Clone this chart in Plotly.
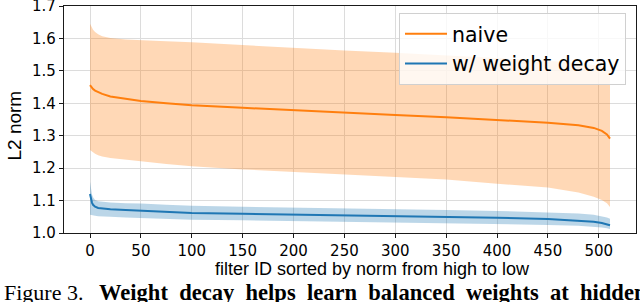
import plotly.graph_objects as go

# ---- data ----
filter_id = [0, 1, 2, 3, 5, 8, 12, 20, 35, 50, 75, 100, 150, 200, 250, 300,
             350, 400, 450, 480, 495, 503, 508, 511]

naive_mean = [1.456, 1.451, 1.447, 1.444, 1.439, 1.434, 1.429, 1.421, 1.413,
              1.407, 1.400, 1.394, 1.386, 1.378, 1.371, 1.364, 1.357, 1.349,
              1.340, 1.332, 1.324, 1.315, 1.304, 1.291]
naive_upper = [1.645, 1.638, 1.632, 1.627, 1.620, 1.613, 1.607, 1.601, 1.597,
               1.594, 1.591, 1.588, 1.579, 1.570, 1.563, 1.556, 1.548, 1.540,
               1.531, 1.524, 1.518, 1.512, 1.505, 1.498]
naive_lower = [1.256, 1.253, 1.250, 1.248, 1.244, 1.240, 1.236, 1.231, 1.225,
               1.221, 1.213, 1.206, 1.196, 1.188, 1.180, 1.173, 1.165, 1.152,
               1.140, 1.125, 1.112, 1.102, 1.092, 1.080]

wd_mean = [1.120, 1.103, 1.093, 1.087, 1.081, 1.077, 1.075, 1.073, 1.071,
           1.069, 1.065, 1.062, 1.059, 1.057, 1.055, 1.052, 1.050, 1.047,
           1.043, 1.039, 1.035, 1.031, 1.027, 1.024]
wd_upper = [1.158, 1.132, 1.118, 1.110, 1.102, 1.098, 1.096, 1.094, 1.092,
            1.091, 1.087, 1.084, 1.081, 1.079, 1.077, 1.074, 1.071, 1.068,
            1.064, 1.060, 1.056, 1.052, 1.048, 1.044]
wd_lower = [1.056, 1.055, 1.054, 1.054, 1.053, 1.052, 1.051, 1.050, 1.048,
            1.046, 1.043, 1.041, 1.039, 1.037, 1.035, 1.033, 1.031, 1.029,
            1.025, 1.022, 1.020, 1.017, 1.015, 1.012]

series_names = ["naive", "w/ weight decay"]
x_ticks = [0, 50, 100, 150, 200, 250, 300, 350, 400, 450, 500]
y_ticks = [1.0, 1.1, 1.2, 1.3, 1.4, 1.5, 1.6, 1.7]
x_title = "filter ID sorted by norm from high to low"
y_title = "L2 norm"
caption_plain = "Figure 3."
caption_bold = "Weight decay helps learn balanced weights at hidden"

ORANGE = "#ff7f0e"
BLUE = "#1f77b4"

W, H = 640, 302
ML, MR, MT, MB = 64, 4, 6, 69
PW, PH = W - ML - MR, H - MT - MB


def px_x(p):
    return (p - ML) / PW


def px_y(p):
    return (H - MB - p) / PH


fig = go.Figure()

# naive band + line
fig.add_trace(go.Scatter(x=filter_id, y=naive_upper, mode="lines",
                         line=dict(width=0, color=ORANGE), showlegend=False,
                         hoverinfo="skip"))
fig.add_trace(go.Scatter(x=filter_id, y=naive_lower, mode="lines",
                         line=dict(width=0, color=ORANGE), fill="tonexty",
                         fillcolor="rgba(255,127,14,0.3)", showlegend=False,
                         hoverinfo="skip"))
fig.add_trace(go.Scatter(x=filter_id, y=naive_mean, mode="lines",
                         line=dict(width=2, color=ORANGE), name=series_names[0]))

# weight decay band + line
fig.add_trace(go.Scatter(x=filter_id, y=wd_upper, mode="lines",
                         line=dict(width=0, color=BLUE), showlegend=False,
                         hoverinfo="skip"))
fig.add_trace(go.Scatter(x=filter_id, y=wd_lower, mode="lines",
                         line=dict(width=0, color=BLUE), fill="tonexty",
                         fillcolor="rgba(31,119,180,0.3)", showlegend=False,
                         hoverinfo="skip"))
fig.add_trace(go.Scatter(x=filter_id, y=wd_mean, mode="lines",
                         line=dict(width=2, color=BLUE), name=series_names[1]))

axis_common = dict(
    showline=True, mirror=True, linecolor="#1a1a1a", linewidth=1.2,
    ticks="outside", ticklen=4, tickwidth=1, tickcolor="#1a1a1a",
    showgrid=True, gridcolor="#dcdcdc", gridwidth=1.4, zeroline=False,
    automargin=False, ticklabeloverflow="allow",
    tickfont=dict(family="DejaVu Sans", size=15, color="black"),
)

fig.update_xaxes(range=[-25.55, 536.55], tickvals=x_ticks, **axis_common)
fig.update_yaxes(range=[1.0, 1.7], tickvals=y_ticks, tickformat=".1f",
                 **axis_common)

annotations = [
    dict(text=x_title, xref="paper", yref="paper", x=px_x(372), y=px_y(268.5),
         xanchor="center", yanchor="middle", showarrow=False,
         font=dict(family="Liberation Sans", size=18, color="black")),
    dict(text=y_title, xref="paper", yref="paper", x=px_x(14), y=px_y(125.5),
         xanchor="center", yanchor="middle", showarrow=False, textangle=-90,
         font=dict(family="Liberation Sans", size=19, color="black")),
    dict(text=caption_plain, xref="paper", yref="paper", x=px_x(2),
         y=px_y(292), xanchor="left", yanchor="middle", showarrow=False,
         font=dict(family="Liberation Serif", size=22, color="black")),
    dict(text="<b>" + " \u00a0".join(caption_bold.split(" ")) + "</b>",
         xref="paper", yref="paper", x=px_x(97), y=px_y(292),
         xanchor="left", yanchor="middle", showarrow=False,
         font=dict(family="Liberation Serif", size=22.55, color="black")),
]

fig.update_layout(
    width=W, height=H,
    margin=dict(l=ML, r=MR, t=MT, b=MB, pad=0, autoexpand=False),
    plot_bgcolor="white", paper_bgcolor="white",
    annotations=annotations,
    legend=dict(x=px_x(626), y=px_y(13), xanchor="right", yanchor="top",
                traceorder="normal",
                bgcolor="rgba(255,255,255,0.8)", bordercolor="#d0d0d0",
                borderwidth=1, font=dict(family="DejaVu Sans", size=20.5,
                                         color="black"),
                itemwidth=42),
)

fig.write_html("out.html", config={"displayModeBar": False},
               post_script="document.body.style.margin='0';"
                           "document.body.style.overflow='hidden';")
